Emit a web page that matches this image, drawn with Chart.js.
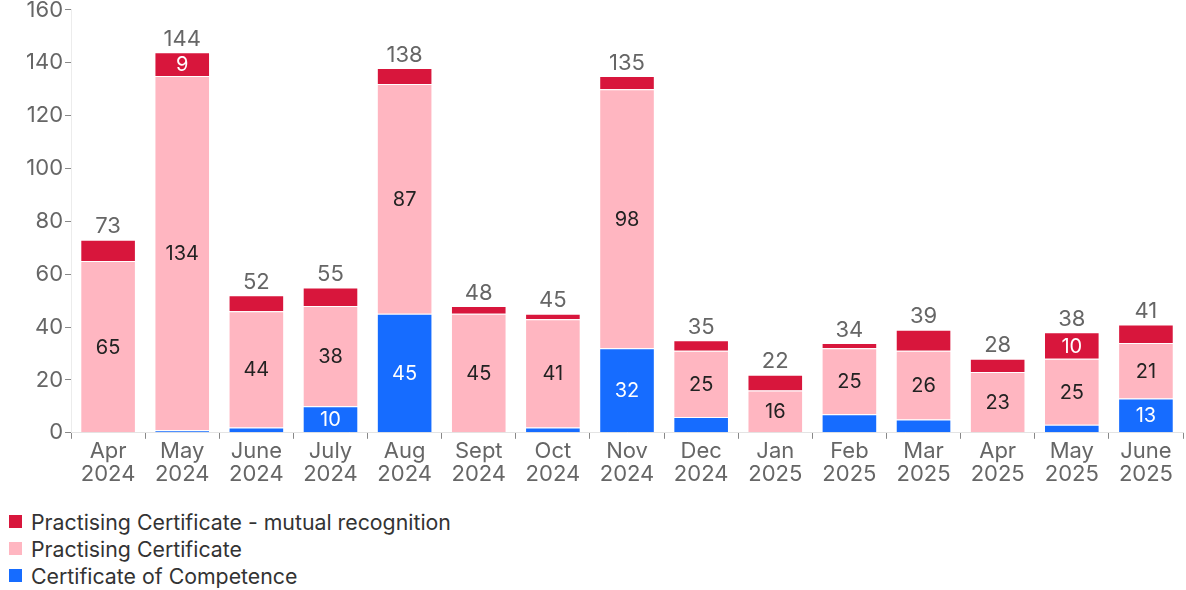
<!DOCTYPE html>
<html>
<head>
<meta charset="utf-8">
<script src="https://cdn.jsdelivr.net/npm/chart.js@4.4.1/dist/chart.umd.min.js"></script>
<style>
  body { margin: 0; background: #fff; font-family: Inter, sans-serif; }
  #wrap { position: relative; width: 1186px; height: 487px; }
  #legend { margin: 21px 0 0 9px; color: #333; font-size: 21.3px; }
  .item { display: flex; align-items: center; height: 27px; }
  .box { width: 13px; height: 13px; margin-right: 9px; }
</style>
</head>
<body>
<div id="wrap"><canvas id="chart"></canvas></div>
<div id="legend"></div>
<script>
const months = [
  ['Apr', '2024'], ['May', '2024'], ['June', '2024'], ['July', '2024'], ['Aug', '2024'],
  ['Sept', '2024'], ['Oct', '2024'], ['Nov', '2024'], ['Dec', '2024'], ['Jan', '2025'],
  ['Feb', '2025'], ['Mar', '2025'], ['Apr', '2025'], ['May', '2025'], ['June', '2025']
];
const competence = [0, 1, 2, 10, 45, 0, 2, 32, 6, 0, 7, 5, 0, 3, 13];
const practising = [65, 134, 44, 38, 87, 45, 41, 98, 25, 16, 25, 26, 23, 25, 21];
const mutual = [8, 9, 6, 7, 6, 3, 2, 5, 4, 6, 2, 8, 5, 10, 7];
const totals = [73, 144, 52, 55, 138, 48, 45, 135, 35, 22, 34, 39, 28, 38, 41];

const datasets = [
    { label: 'Certificate of Competence', data: competence, backgroundColor: '#166cff', textColor: '#fff' },
    { label: 'Practising Certificate', data: practising, backgroundColor: '#ffb6c1', textColor: '#222' },
    { label: 'Practising Certificate - mutual recognition', data: mutual, backgroundColor: '#d8163c', textColor: '#fff' }
];

// segment values and totals drawn on top of the bars
const labelPlugin = {
    id: 'barLabels',
    afterDatasetsDraw(chart) {
        const ctx = chart.ctx;
        ctx.save();
        ctx.textAlign = 'center';
        ctx.textBaseline = 'middle';
        ctx.font = '20px Inter, sans-serif';
        chart.data.datasets.forEach((ds, i) => {
            chart.getDatasetMeta(i).data.forEach((bar, j) => {
                if (ds.data[j] < 9) return;
                ctx.fillStyle = ds.textColor;
                ctx.fillText(ds.data[j], bar.x, (bar.y + bar.base) / 2 + 1);
            });
        });
        const top = chart.getDatasetMeta(2).data;
        ctx.fillStyle = '#666';
        ctx.font = '22px Inter, sans-serif';
        ctx.textBaseline = 'bottom';
        top.forEach((bar, j) => {
            ctx.fillText(totals[j], bar.x, bar.y - 2);
        });
        ctx.restore();
    }
};

new Chart(document.getElementById('chart').getContext('2d'), {
    type: 'bar',
    data: {
        labels: months,
        datasets: datasets.map(d => ({
            label: d.label,
            data: d.data,
            backgroundColor: d.backgroundColor,
            borderColor: '#fff',
            borderWidth: 1,
            categoryPercentage: 0.75,
            barPercentage: 1,
            textColor: d.textColor
        }))
    },
    options: {
        responsive: true,
        maintainAspectRatio: false,
        animation: false,
        layout: { padding: { top: 0, right: 3, left: 24, bottom: 0 } },
        plugins: {
            legend: { display: false },
            tooltip: { enabled: false }
        },
        scales: {
            x: {
                stacked: true,
                grid: { display: true, drawOnChartArea: false, offset: true, tickLength: 6, color: '#888' },
                border: { color: '#e4e4e4' },
                ticks: { color: '#666', font: { size: 22, family: 'Inter', lineHeight: 1.05 }, padding: 1, maxRotation: 0 }
            },
            y: {
                stacked: true,
                min: 0,
                max: 160,
                grid: { display: true, drawOnChartArea: false, tickLength: 6, color: '#888' },
                border: { color: '#ececec' },
                ticks: { stepSize: 20, color: '#666', font: { size: 22, family: 'Inter', lineHeight: 0.72 }, padding: 2 }
            }
        }
    },
    plugins: [labelPlugin]
});

// legend, listed top series first
const legend = document.getElementById('legend');
datasets.slice().reverse().forEach(d => {
    const item = document.createElement('div');
    item.className = 'item';
    item.innerHTML = '<span class="box" style="background:' + d.backgroundColor + '"></span><span>' + d.label + '</span>';
    legend.appendChild(item);
});
</script>
</body>
</html>
